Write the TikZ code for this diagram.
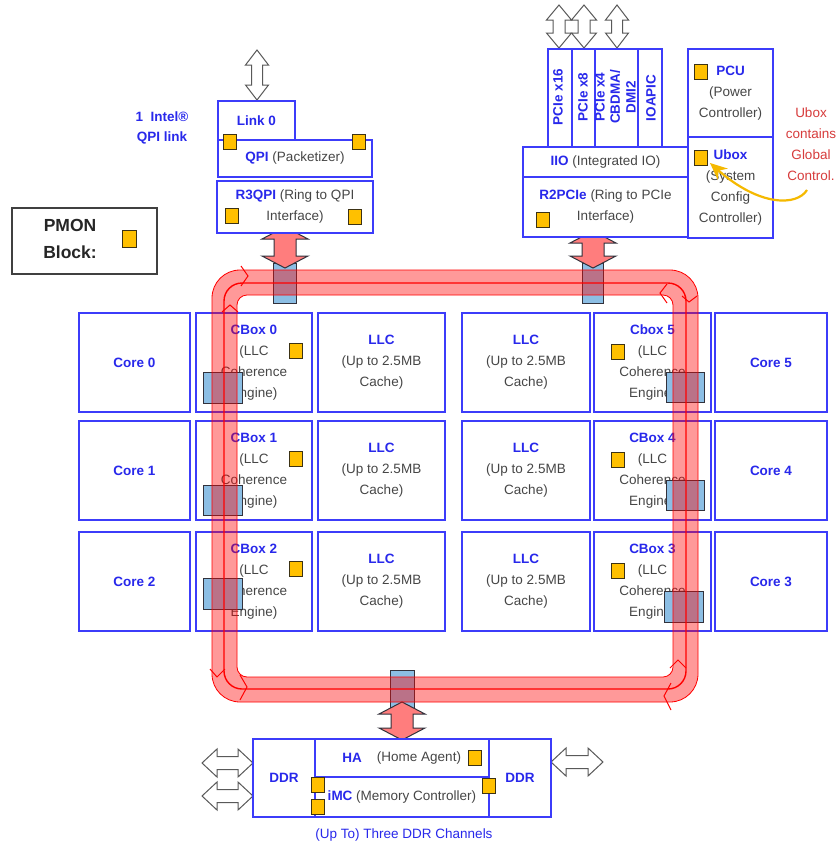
\documentclass[tikz,border=0pt]{standalone}
\usepackage{fontspec}
\setmainfont{Liberation Sans}
\usetikzlibrary{arrows.meta}
\definecolor{bblue}{RGB}{60,60,250}
\definecolor{tblue}{RGB}{40,40,235}
\definecolor{tgray}{RGB}{70,70,70}
\definecolor{sqfill}{RGB}{255,192,0}
\definecolor{sqdraw}{RGB}{60,50,20}
\definecolor{stopfill}{RGB}{140,190,228}
\definecolor{stopdraw}{RGB}{50,50,60}
\definecolor{pinkarr}{RGB}{255,125,125}
\definecolor{uboxred}{RGB}{215,60,60}
\definecolor{arrowy}{RGB}{245,185,0}
\newcommand\BL[1]{\textcolor{tblue}{\textbf{#1}}}
\newcommand\BX[6][]{\node[box,#1,minimum width={(#4)-(#2)}, minimum height={(#5)-(#3)}] (#6) at ({((#2)+(#4))/2},{((#3)+(#5))/2})}
\newcommand\VArr[7]{\draw[#1] (#2,#3) -- ({#2+#5},{#3+#7}) -- ({#2+#6},{#3+#7}) -- ({#2+#6},{#4-#7}) -- ({#2+#5},{#4-#7}) -- (#2,#4) -- ({#2-#5},{#4-#7}) -- ({#2-#6},{#4-#7}) -- ({#2-#6},{#3+#7}) -- ({#2-#5},{#3+#7}) -- cycle;}
\newcommand\HArr[7]{\draw[#1] (#3,#2) -- ({#3+#7},{#2-#5}) -- ({#3+#7},{#2-#6}) -- ({#4-#7},{#2-#6}) -- ({#4-#7},{#2-#5}) -- (#4,#2) -- ({#4-#7},{#2+#5}) -- ({#4-#7},{#2+#6}) -- ({#3+#7},{#2+#6}) -- ({#3+#7},{#2+#5}) -- cycle;}
\begin{document}
\begin{tikzpicture}[x=1pt,y=-1pt,
  every node/.style={font=\fontsize{13.5}{21}\selectfont, text=tgray},
  box/.style={draw=bblue, fill=white, line width=1.6pt, inner sep=0pt, align=center},
  sq/.style={draw=sqdraw, fill=sqfill, line width=0.9pt, minimum width=13pt, minimum height=15pt, inner sep=0pt},
  stopbox/.style={draw=stopdraw, fill=stopfill, line width=1pt},
  ringarrow/.style={draw=stopdraw, fill=pinkarr, line width=1pt},
  ioarrow/.style={draw=black!65, fill=white, line width=1pt},
  chev/.style={red, line width=1pt},
  lbl/.style={text=tblue, font=\bfseries\fontsize{13.5}{21}\selectfont},
]
\fill[white] (0,0) rectangle (837,846);
\useasboundingbox (0,0) rectangle (837,846);

% ---------------- grid ----------------
\BX{79}{313}{190}{412}{core0} {\BL{Core 0}};
\BX{196}{313}{312}{412}{cb0} {\BL{CBox 0}\\(LLC\\Coherence\\Engine)};
\BX{318}{313}{445}{412}{llc0} {\BL{LLC}\\(Up to 2.5MB\\Cache)};
\BX{462}{313}{590}{412}{llc5} {\BL{LLC}\\(Up to 2.5MB\\Cache)};
\BX{594}{313}{711}{412}{cb5} {\BL{Cbox 5}\\(LLC\\Coherence\\Engine)};
\BX{715}{313}{827}{412}{core5} {\BL{Core 5}};

\BX{79}{421}{190}{520}{core1} {\BL{Core 1}};
\BX{196}{421}{312}{520}{cb1} {\BL{CBox 1}\\(LLC\\Coherence\\Engine)};
\BX{318}{421}{445}{520}{llc1} {\BL{LLC}\\(Up to 2.5MB\\Cache)};
\BX{462}{421}{590}{520}{llc4} {\BL{LLC}\\(Up to 2.5MB\\Cache)};
\BX{594}{421}{711}{520}{cb4} {\BL{CBox 4}\\(LLC\\Coherence\\Engine)};
\BX{715}{421}{827}{520}{core4} {\BL{Core 4}};

\BX{79}{532}{190}{631}{core2} {\BL{Core 2}};
\BX{196}{532}{312}{631}{cb2} {\BL{CBox 2}\\(LLC\\Coherence\\Engine)};
\BX{318}{532}{445}{631}{llc2} {\BL{LLC}\\(Up to 2.5MB\\Cache)};
\BX{462}{532}{590}{631}{llc3} {\BL{LLC}\\(Up to 2.5MB\\Cache)};
\BX{594}{532}{711}{631}{cb3} {\BL{CBox 3}\\(LLC\\Coherence\\Engine)};
\BX{715}{532}{827}{631}{core3} {\BL{Core 3}};

% squares in cboxes
\node[sq] (sq0) at (296,351) {};
\node[sq] (sq1) at (296,459) {};
\node[sq] (sq2) at (296,569) {};
\node[sq] (sq5) at (618,352) {};
\node[sq] (sq4) at (618,460) {};
\node[sq] (sq3) at (618,571) {};

% ---------------- ring stops ----------------
\BX[stopbox]{203}{372}{242}{403}{st0} {};
\BX[stopbox]{203}{485}{242}{515}{st1} {};
\BX[stopbox]{203}{578}{242}{609}{st2} {};
\BX[stopbox]{666}{372}{704}{402}{st5} {};
\BX[stopbox]{666}{480}{704}{510}{st4} {};
\BX[stopbox]{664}{591}{703}{622}{st3} {};
\BX[stopbox]{273}{263}{296}{303}{stq} {};
\BX[stopbox]{582}{263}{603}{303}{stp} {};
\BX[stopbox]{390}{670}{414}{708}{sth} {};

% pink ring arrows
\VArr{ringarrow}{285}{227}{268}{23}{11}{12}
\VArr{ringarrow}{593}{231}{268}{23}{11}{12}
\VArr{ringarrow}{402}{702}{740}{23}{11}{12}

% ---------------- QPI side ----------------
\VArr{ioarrow}{257}{50}{100}{11.5}{5.5}{15}
\BX{218}{101}{295}{140}{link0} {\BL{Link 0}};
\BX{218}{140}{372}{177}{qpi} {\BL{QPI} (Packetizer)};
\BX{217}{181}{373}{233}{r3qpi} {\BL{R3QPI} (Ring to QPI\\Interface)};
\node[sq] (sqq1) at (230,142) {};
\node[sq] (sqq2) at (359,142) {};
\node[sq] (sqr1) at (232,216) {};
\node[sq] (sqr2) at (355,217) {};
\node[lbl, align=center, font=\bfseries\fontsize{13.5}{20}\selectfont] (qpilink) at (162,128) {1~ Intel®\\QPI link};

% PMON
\node[draw=black!75, line width=1.5pt, fill=white, minimum width=145pt, minimum height=66pt, inner sep=0pt] (pmon) at (84.5,241) {};
\node[font=\bfseries\fontsize{17.5}{27}\selectfont, text=black!85, align=center] (pmontxt) at (70,238.5) {PMON\\Block:};
\node[sq, minimum width=14pt, minimum height=17pt] (pmonsq) at (129,239) {};

% ---------------- PCIe side ----------------
\VArr{ioarrow}{559}{5}{48}{12.5}{6}{15}
\VArr{ioarrow}{584}{5}{48}{12.5}{6}{15}
\VArr{ioarrow}{617}{5}{48}{11.5}{5.5}{15}
\BX{548}{49}{572}{147}{pc16} {};
\BX{572}{49}{595}{147}{pc8} {};
\BX{595}{49}{638}{147}{pc4} {};
\BX{638}{49}{662}{147}{ioapic} {};
\node[lbl, rotate=90] (t16) at (558,97) {PCIe x16};
\node[lbl, rotate=90] (t8) at (583,97) {PCIe x8};
\node[lbl, rotate=90] (t4) at (600,97) {PCIe x4};
\node[lbl, rotate=90] (tcb) at (615,97) {CBDMA/};
\node[lbl, rotate=90] (tdmi) at (631,97) {DMI2};
\node[lbl, rotate=90] (tio) at (651,98) {IOAPIC};
\BX{523}{147}{688}{177}{iio} {\BL{IIO} (Integrated IO)};
\BX{523}{177}{688}{237}{r2pcie} {\BL{R2PCIe} (Ring to PCIe\\Interface)};
\node[sq] (sqp) at (543,220) {};
\BX{688}{49}{773}{137}{pcu} {\BL{PCU}\\(Power\\Controller)};
\BX{688}{137}{773}{238}{ubox} {\BL{Ubox}\\(System\\Config\\Controller)};
\node[sq] (sqpcu) at (701,72) {};
\node[sq] (squbox) at (701,158) {};
\node[text=uboxred, align=center, font=\fontsize{13.5}{21}\selectfont] (unote) at (811,144) {Ubox\\contains\\Global\\Control.};
\coordinate (ystart) at (807,190);
\coordinate (yend) at (710,163);
\draw[arrowy, line width=2.2pt, -{Stealth[length=17pt,width=15pt]}] (ystart) .. controls (797,206) and (760,207) .. (yend);

% ---------------- ring pipe ----------------
\fill[red, fill opacity=0.4, even odd rule] [rounded corners=28pt] (212,270) rectangle (698,702) [rounded corners=10pt] (237,295) rectangle (673,677);
\draw[red, line width=0.8pt, rounded corners=28pt] (212,270) rectangle (698,702);
\draw[red, line width=0.8pt, rounded corners=10pt] (237,295) rectangle (673,677);
\draw[red, line width=1.4pt, rounded corners=18pt] (224,283) rectangle (686,689);
% direction marks
\draw[chev] (241,266) -- (248,276) -- (241,286);
\draw[chev] (222,312) -- (230,305) -- (238,312);
\draw[chev] (667,284) -- (660,293) -- (667,303);
\draw[chev] (682,296) -- (689,302) -- (697,296);
\draw[chev] (210,669) -- (217,677) -- (225,669);
\draw[chev] (240,675) -- (247,687) -- (240,700);
\draw[chev] (671,683) -- (664,696) -- (671,710);
\draw[chev] (670,668) -- (678,660) -- (686,668);

% ---------------- memory side ----------------
\HArr{ioarrow}{763}{202}{253}{14}{6.5}{15}
\HArr{ioarrow}{796}{202}{253}{14}{6.5}{15}
\HArr{ioarrow}{762}{551}{603}{14}{6.5}{15}
\BX{253}{739}{315}{817}{ddrl} {\BL{DDR}};
\BX{315}{739}{489}{777}{ha} {};
\BX{315}{777}{489}{817}{imc} {\BL{iMC} (Memory Controller)};
\BX{489}{739}{551}{817}{ddrr} {\BL{DDR}};
\node[lbl] (hat) at (352,758) {HA};
\node (hatxt) at (419,758) {(Home Agent)};
\node[sq] (sqha) at (475,758) {};
\node[sq] (sqi1) at (318,785) {};
\node[sq] (sqi2) at (318,807) {};
\node[sq] (sqi3) at (489,786) {};
\node[text=tblue] (chan) at (404,835) {(Up To) Three DDR Channels};
\end{tikzpicture}
\end{document}
